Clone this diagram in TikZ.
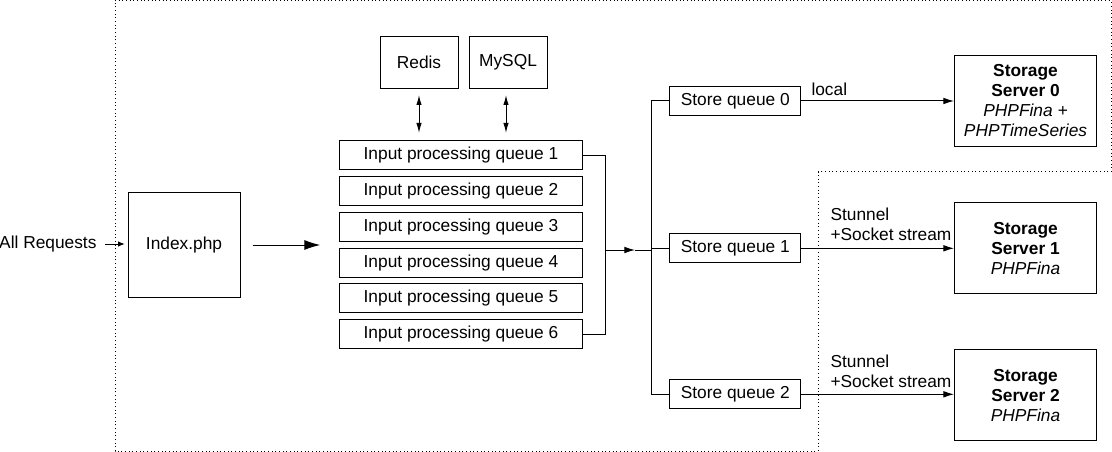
\documentclass[tikz,border=0pt]{standalone}
\usepackage{fontspec}
\setmainfont{Liberation Sans}
\usetikzlibrary{arrows.meta}
\begin{document}
\begin{tikzpicture}[x=0.75pt,y=-0.75pt,
  font=\fontsize{13}{15}\selectfont,
  line width=0.75pt,
  box/.style={draw, inner sep=0pt, align=center},
  iq/.style={box, minimum width=243*0.75pt, minimum height=29*0.75pt},
  sq/.style={box, minimum width=131*0.75pt, minimum height=29*0.75pt},
  ss/.style={box, minimum width=142*0.75pt, minimum height=91*0.75pt},
  db/.style={box, minimum width=78*0.75pt, minimum height=52*0.75pt},
  arr/.style={-{Latex[length=8pt,width=5pt]}},
  bigarr/.style={-{Latex[length=12pt,width=7.5pt]}},
  darr/.style={{Latex[length=7.5pt,width=4pt]}-{Latex[length=7.5pt,width=4pt]}},
  smallarr/.style={-{Latex[length=5pt,width=4pt]}},
  region/.style={dotted, line width=0.75pt}
]
\useasboundingbox (0,0) rectangle (1112,452);

% dotted region
\draw[region] (115,1) -- (1111,1) -- (1111,172) -- (818,172) -- (818,451) -- (115,451) -- cycle;

% nodes
\node[anchor=east, inner sep=0pt] (req) at (97,244) {All Requests};
\node[box, minimum width=112*0.75pt, minimum height=104*0.75pt] (idx) at (184,245) {Index.php};

\node[db] (redis) at (419,62.5) {Redis};
\node[db] (mysql) at (508,62.5) {MySQL};

\foreach \i/\y in {1/155.5,2/191.2,3/226.9,4/262.6,5/298.3,6/334}
  \node[iq] (q\i) at (461,\y) {Input processing queue \i};

\node[sq] (s0) at (735.3,101) {Store queue 0};
\node[sq] (s1) at (735.3,248.3) {Store queue 1};
\node[sq] (s2) at (735.3,394.3) {Store queue 2};

\node[ss] (ss0) at (1025.5,100.7) {\textbf{Storage}\\\textbf{Server 0}\\\textit{PHPFina +}\\\textit{PHPTimeSeries}};
\node[ss] (ss1) at (1025.5,248.3) {\textbf{Storage}\\\textbf{Server 1}\\\textit{PHPFina}};
\node[ss] (ss2) at (1025.5,395.2) {\textbf{Storage}\\\textbf{Server 2}\\\textit{PHPFina}};

% connectors
\draw[smallarr, shorten <=6pt, shorten >=2pt] (req.east) -- (idx.west |- req.east);
\draw[bigarr, shorten <=9pt, shorten >=14pt] (idx.east) -- (idx.east -| q1.west);

\draw[darr] (419,95) -- (419,133);
\coordinate (mysqlx) at (506,95);
\draw[darr] (mysqlx) -- (506,133);

\coordinate (bx) at (605.7,155.5);
\draw (q1.east) -- (bx) |- (q6.east);
\coordinate (jin) at (605.7,250);
\coordinate (jtip) at (635,250);
\coordinate (jx) at (651,250);
\draw[arr] (jin) -- (jtip);
\draw (jtip) -- (jx);
\draw (jx |- s0.west) -- (jx |- s2.west);
\draw (jx |- s0.west) -- (s0.west);
\draw (jx |- s1.west) -- (s1.west);
\draw (jx |- s2.west) -- (s2.west);

\draw[arr] (s0.east) -- (ss0.west |- s0.east);
\draw[arr] (s1.east) -- (ss1.west |- s1.east);
\draw[arr] (s2.east) -- (ss2.west |- s2.east);

\node[anchor=west, inner sep=0pt] (lloc) at (811,89) {local};
\node[anchor=west, inner sep=0pt, align=left] (l1) at (830,224) {Stunnel\\+Socket stream};
\node[anchor=west, inner sep=0pt, align=left] (l2) at (830,371) {Stunnel\\+Socket stream};
\end{tikzpicture}
\end{document}
